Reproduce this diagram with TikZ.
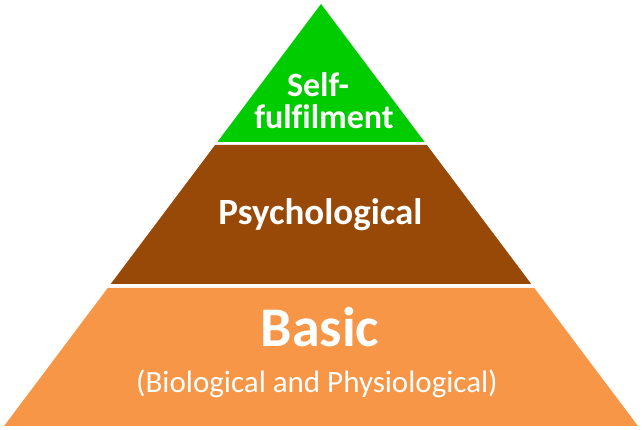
\documentclass[tikz,border=0pt]{standalone}
\usepackage{fontspec}
\setmainfont{Carlito}[Ligatures=NoCommon]
\usetikzlibrary{positioning}
\definecolor{topgreen}{HTML}{00CC00}
\definecolor{midbrown}{HTML}{984807}
\definecolor{baseorange}{HTML}{F79646}
\tikzset{
  layer/.style={draw=none},
  lbl/.style={text=white, inner sep=0pt, anchor=base}
}
\begin{document}
\begin{tikzpicture}[x=1pt,y=-1pt]
    \useasboundingbox (0,0) rectangle (643,430);
    \fill[layer, topgreen] (321,4) -- (424.6,142) -- (217.4,142) -- cycle;
    \fill[layer, midbrown] (215.1,145) -- (426.9,145) -- (531.3,284) -- (110.7,284) -- cycle;
    \fill[layer, baseorange] (107.7,288) -- (534.3,288) -- (637.9,426) -- (4.1,426) -- cycle;
    \node[lbl, font=\fontsize{34}{36}\selectfont\bfseries] (S) at (318,97) {Self-};
    \node[lbl, font=\fontsize{34}{36}\selectfont\bfseries] (F) at (324,129) {fulfilment};
    \node[lbl, font=\fontsize{37}{40}\selectfont\bfseries] (P) at (320.5,225) {Psychological};
    \node[lbl, font=\fontsize{56}{60}\selectfont\bfseries] (B) at (320,347) {Basic};
    \node[lbl, font=\fontsize{31}{34}\selectfont] (BP) at (317,393) {(Biological and Physiological)};
\end{tikzpicture}
\end{document}
